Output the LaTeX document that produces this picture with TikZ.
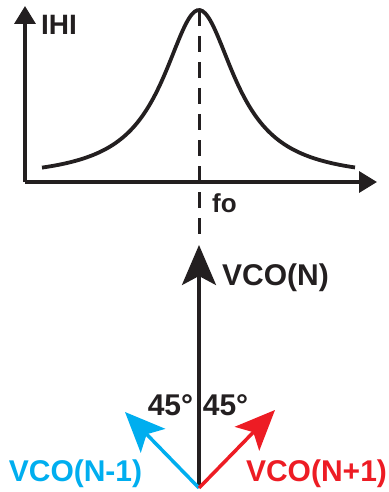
\documentclass[tikz,border=0pt]{standalone}
\usepackage{fontspec}
\setmainfont{Liberation Sans}
\usetikzlibrary{arrows.meta}
\definecolor{inkblack}{RGB}{35,31,32}
\definecolor{vcoblue}{RGB}{0,174,239}
\definecolor{vcored}{RGB}{237,28,36}
\tikzset{
  axis/.style={line width=3.5pt, -{Triangle[length=18pt,width=21pt]}},
  vector/.style={line width=3.5pt, -{Stealth[length=40pt,width=34pt,inset=9pt]}},
  lbl/.style={inner sep=0pt, font=\bfseries\fontsize{30}{36}\selectfont}
}
\begin{document}
\begin{tikzpicture}[x=1pt,y=-1pt,color=inkblack]
\useasboundingbox (0,0) rectangle (388,492);

% response plot
\coordinate (O) at (25,182);
\coordinate (ytip) at (25,6);
\coordinate (xtip) at (377,182);
\draw[axis] (O) -- (ytip);
\draw[axis] (O) -- (xtip);
\draw[line width=3.8pt] plot[domain=42:355,samples=120,smooth]
  (\x,{180-170/(1+((\x-199)/44)^2)});
\coordinate (peak) at (199,10);
\coordinate (dashend) at (199,240);
\draw[line width=3pt, dash pattern=on 16pt off 10pt] (peak) -- (dashend);
\node[lbl, font=\bfseries\fontsize{28}{34}\selectfont, anchor=base west] (H) at (41,35) {IHI};
\node[lbl, font=\bfseries\fontsize{26}{31}\selectfont, anchor=base west] (f0) at (212,212) {fo};

% phasors
\coordinate (base) at (199,488);
\coordinate (tipN) at (199,245);
\coordinate (tipL) at (125,412);
\coordinate (tipR) at (275,410);
\draw[vector] (base) -- (tipN);
\draw[vector, vcoblue] (base) -- (tipL);
\draw[vector, vcored] (base) -- (tipR);
\node[lbl, anchor=base west] (vN) at (222,285) {VCO(N)};
\node[lbl, anchor=base] (angL) at (170.5,415) {45°};
\node[lbl, anchor=base] (angR) at (225.5,415) {45°};
\node[lbl, anchor=base, vcoblue] (vL) at (75.5,481) {VCO(N-1)};
\node[lbl, anchor=base, vcored] (vR) at (316.5,481) {VCO(N+1)};
\end{tikzpicture}
\end{document}
